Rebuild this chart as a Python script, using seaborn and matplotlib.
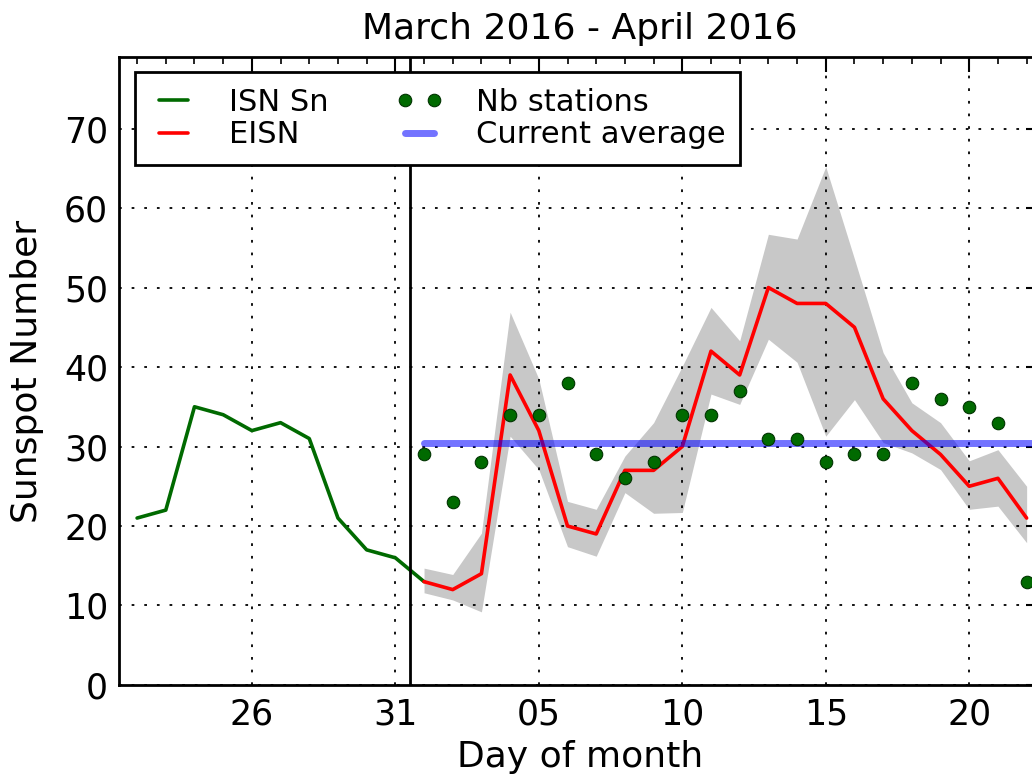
import matplotlib
matplotlib.use("Agg")
import matplotlib.pyplot as plt
import matplotlib.ticker as ticker
import numpy as np
import pandas as pd
import seaborn as sns

# x is day number counted from 1 March (so 1 April = 32)
isn_days = [22, 23, 24, 25, 26, 27, 28, 29, 30, 31, 32]
isn_sn = [21, 22, 35, 34, 32, 33, 31, 21, 17, 16, 13]

eisn_days = list(range(32, 54))  # 1 .. 22 April
eisn = [13, 12, 14, 39, 32, 20, 19, 27, 27, 30, 42, 39,
        50, 48, 48, 45, 36, 32, 29, 25, 26, 21]
eisn_hi = [14.7, 13.9, 19.1, 46.9, 38.5, 23.1, 22.1, 28.8, 33.0, 40.1, 47.5, 43.3,
           56.7, 56.1, 65.2, 53.6, 41.8, 35.5, 33.0, 28.2, 29.6, 25.0]
eisn_lo = [11.6, 10.7, 9.2, 31.3, 27.1, 17.4, 16.2, 24.2, 21.6, 21.7, 36.6, 35.3,
           43.5, 40.6, 31.3, 35.9, 30.5, 29.2, 27.1, 22.1, 22.5, 17.9]
nb_stations = [29, 23, 28, 34, 34, 38, 29, 26, 28, 34, 34, 37,
               31, 31, 28, 29, 29, 38, 36, 35, 33, 13]
current_avg = 30.5

tick_days = [26, 31, 36, 41, 46, 51]
tick_labels = ["26", "31", "05", "10", "15", "20"]
month_break = 31.5

green = "#006a00"

sns.set_style("white")
plt.rcParams["font.family"] = ["DejaVu Sans"]
plt.rcParams.update({
    "text.color": "black", "axes.labelcolor": "black",
    "xtick.color": "black", "ytick.color": "black",
    "xtick.direction": "in", "ytick.direction": "in",
    "xtick.top": True, "ytick.right": True,
    "xtick.major.size": 11, "ytick.major.size": 11,
    "xtick.minor.size": 5, "ytick.minor.size": 5,
    "xtick.major.width": 1.5, "ytick.major.width": 1.5,
    "xtick.minor.width": 1.2, "ytick.minor.width": 1.2,
    "xtick.major.pad": 9, "ytick.major.pad": 8,
})

isn_df = pd.DataFrame({"day": isn_days, "value": isn_sn})
eisn_df = pd.DataFrame({"day": eisn_days, "value": eisn, "hi": eisn_hi,
                        "lo": eisn_lo, "nb": nb_stations})

fig = plt.figure(figsize=(10.32, 7.76), dpi=100)
ax = fig.add_axes([0.1156, 0.1173, 0.8931, 0.8092])

ax.fill_between(eisn_df["day"], eisn_df["lo"], eisn_df["hi"],
                color="#c8c8c8", linewidth=0, zorder=1)
sns.lineplot(data=isn_df, x="day", y="value", ax=ax, color=green,
             linewidth=2.6, label="ISN Sn", zorder=3)
sns.lineplot(data=eisn_df, x="day", y="value", ax=ax, color="red",
             linewidth=2.6, label="EISN", zorder=3)
sns.lineplot(data=eisn_df, x="day", y="nb", ax=ax, color=green,
             linestyle="none", marker="o", markersize=9,
             markeredgecolor="#003300", markeredgewidth=0.8,
             label="Nb stations", zorder=4)
sns.lineplot(x=[eisn_days[0], eisn_days[-1] + 1], y=[current_avg, current_avg],
             ax=ax, color="blue", alpha=0.55, linewidth=5,
             label="Current average", zorder=3)
ax.axvline(month_break, color="black", linewidth=2, zorder=5)

ax.set_xlim(21.38, 53.5)
ax.set_ylim(0, 79)
ax.set_xticks(tick_days)
ax.set_xticklabels(tick_labels)
ax.xaxis.set_minor_locator(ticker.MultipleLocator(1))
ax.yaxis.set_major_locator(ticker.MultipleLocator(10))
ax.yaxis.set_minor_locator(ticker.MultipleLocator(2))
ax.tick_params(labelsize=25)

ax.set_axisbelow(False)
ax.grid(True, which="major", color="black", linestyle=(0, (1.5, 5.5)),
        linewidth=1.3, zorder=2.5)
for s in ax.spines.values():
    s.set_linewidth(2)
    s.set_color("black")

ax.set_title("March 2016 - April 2016", fontsize=26, pad=13)
ax.set_xlabel("Day of month", fontsize=26, labelpad=6)
ax.set_ylabel("Sunspot Number", fontsize=26, labelpad=14)

leg = ax.legend(loc="upper left", ncol=2, fontsize=22, numpoints=2,
                frameon=True, fancybox=False, handlelength=1.55,
                handletextpad=1.05, columnspacing=2.2,
                labelspacing=0.12, borderpad=0.5, borderaxespad=0.5)
leg.get_frame().set_edgecolor("black")
leg.get_frame().set_linewidth(2)
leg.get_frame().set_alpha(1)

fig.savefig("out.png", dpi=100)
